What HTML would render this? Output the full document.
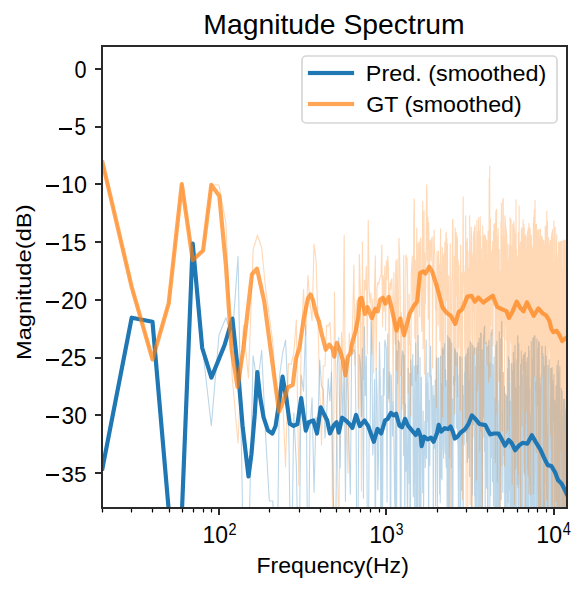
<!DOCTYPE html><html><head><meta charset="utf-8"><style>html,body{margin:0;padding:0;background:#fff;overflow:hidden}svg{display:block}</style></head><body><svg width="587" height="591" viewBox="0 0 587 591"><defs><clipPath id="ax"><rect x="101.92" y="46.5" width="465" height="462"/></clipPath></defs><rect width="587" height="591" fill="#fff"/><g clip-path="url(#ax)" fill="none" stroke-linejoin="round" stroke-linecap="butt"><g opacity="0.3"><path d="M102.00 470.60L131.47 318.90L152.37 321.78L168.59 508.74L181.84 510.00L193.04 247.29L202.75 349.77L211.31 425.90L218.97 335.00L225.89 317.70L232.22 338.62L238.03 256.50L243.42 560.00L248.43 560.00L253.12 355.90L257.53 385.00L261.68 350.30L265.61 434.93L269.34 501.00L272.89 501.00L276.27 653.63L279.50 376.48L282.59 353.49L285.56 340.00L288.41 405.64L291.15 600.00L293.79 412.98L296.34 464.78L298.81 600.00L301.19 374.98L303.50 391.25L305.73 324.50L307.90 600.00L310.01 429.11L312.06 397.89L314.05 492.31L315.99 417.11L317.87 424.95L319.71 360.00L321.51 385.93L323.26 389.43L324.97 437.95L326.64 414.04L328.27 378.45L329.87 400.92L331.43 372.13L332.96 485.97L334.46 529.83L335.93 515.91L337.37 364.18L338.78 337.60L340.17 467.97L341.52 361.74L342.86 424.67L344.17 360.42L345.45 501.29L346.72 358.68L347.96 397.03L349.18 451.01L350.38 494.14L351.56 354.95L352.73 354.06L353.87 349.40L355.00 352.31L356.11 426.78L357.20 640.25L358.28 486.24L359.34 354.61L360.38 363.52L361.42 416.47L362.43 348.42L363.43 498.20L364.42 326.90L365.40 395.67L366.36 356.02L367.31 529.67L368.25 589.72L369.17 425.26L370.09 433.80L370.99 321.00L371.88 345.04L372.76 454.88L373.63 433.41L374.49 379.54L375.34 573.73L376.18 368.27L377.02 394.36L377.84 490.05L378.65 454.90L379.45 342.13L380.25 381.46L381.03 592.08L381.81 395.64L382.58 516.53L383.34 368.52L384.09 395.28L384.84 340.00L385.58 343.83L386.31 348.70L387.03 502.23L387.74 334.00L388.45 398.63L389.16 383.35L389.85 371.73L390.54 603.92L391.22 375.17L391.90 400.59L392.57 436.06L393.23 402.13L393.89 435.61L394.54 493.11L395.19 516.60L395.83 333.20L396.46 596.64L397.09 351.13L397.72 383.62L398.33 340.35L398.95 342.02L399.56 343.59L400.16 472.38L400.76 640.25L401.35 376.31L401.94 358.60L402.52 350.99L403.10 352.43L403.68 455.81L404.25 355.29L404.81 524.00L405.37 403.95L405.93 471.27L406.48 424.26L407.03 469.27L407.58 548.74L408.12 368.32L408.65 428.60L409.18 483.64L409.71 373.23L410.24 680.90L410.76 359.70L411.28 379.31L411.79 385.69L412.30 373.53L412.81 354.26L413.31 496.69L413.81 449.51L414.30 366.07L414.80 561.02L415.29 494.92L415.77 343.39L416.26 392.65L416.74 562.00L417.21 365.64L417.69 515.18L418.16 335.50L418.62 382.00L419.09 452.10L419.55 699.71L420.01 357.63L420.46 483.21L420.92 513.17L421.37 377.23L421.81 441.05L422.26 445.96L422.70 492.79L423.14 410.97L423.58 508.69L424.01 444.32L424.44 455.16L424.87 421.29L425.30 467.57L425.72 375.05L426.14 339.98L426.56 458.33L426.98 383.89L427.39 421.39L427.80 372.68L428.21 387.50L428.62 547.77L429.02 400.17L429.43 417.55L429.83 465.61L430.22 369.14L430.62 346.12L431.01 379.27L431.41 375.82L431.80 423.08L432.18 436.15L432.57 413.18L432.95 385.61L433.33 552.89L433.71 395.39L434.09 400.82L434.47 448.12L434.84 419.07L435.21 380.02L435.58 505.73L435.95 422.28L436.32 362.37L436.68 357.52L437.04 358.20L437.40 511.68L437.76 409.64L438.12 432.42L438.47 358.81L438.83 357.93L439.18 418.76L439.53 493.99L439.88 431.21L440.23 502.61L440.57 356.06L440.91 477.83L441.26 404.71L441.60 383.62L441.94 479.63L442.27 349.32L442.61 390.03L442.94 347.64L443.28 446.64L443.61 458.16L443.94 350.16L444.26 362.41L444.59 343.52L444.92 441.93L445.24 453.42L445.56 369.87L445.88 458.72L446.20 467.33L446.52 443.15L446.84 380.51L447.15 518.90L447.47 418.85L447.78 335.50L448.09 418.03L448.40 523.58L448.71 482.09L449.02 337.80L449.32 338.37L449.63 535.09L449.93 392.52L450.23 340.09L450.53 370.53L450.83 436.07L451.13 425.02L451.43 467.61L451.72 342.91L452.02 514.86L452.31 412.13L452.61 399.00L452.90 525.16L453.19 398.97L453.48 438.11L453.76 376.33L454.05 440.82L454.34 404.51L454.62 348.38L454.90 380.86L455.19 359.37L455.47 349.97L455.75 370.49L456.03 397.94L456.30 427.98L456.58 366.09L456.86 352.60L457.13 428.18L457.41 353.63L457.68 442.43L457.95 438.72L458.22 469.52L458.49 536.74L458.76 400.13L459.03 375.33L459.29 466.75L459.56 356.33L459.82 466.21L460.09 535.57L460.35 356.80L460.61 621.77L460.87 442.72L461.13 453.65L461.39 437.25L461.65 490.20L461.91 357.72L462.16 387.32L462.42 415.23L462.67 444.20L462.93 385.67L463.18 585.71L463.43 421.63L463.68 395.45L463.93 442.51L464.18 444.99L464.43 372.85L464.68 432.82L464.93 377.22L465.17 356.89L465.42 404.75L465.66 431.95L465.90 371.21L466.15 353.96L466.39 358.82L466.63 441.87L466.87 362.86L467.11 381.30L467.35 462.34L467.59 349.64L467.82 366.31L468.06 421.02L468.30 347.51L468.53 432.83L468.76 458.04L469.00 423.87L469.23 413.82L469.46 380.63L469.69 476.56L469.92 355.20L470.15 341.94L470.38 341.50L470.61 411.91L470.84 375.26L471.06 393.94L471.29 418.07L471.52 640.34L471.74 343.65L471.96 364.29L472.19 495.03L472.41 482.54L472.63 419.95L472.85 391.10L473.07 345.64L473.29 419.58L473.51 424.66L473.73 424.03L473.95 382.00L474.17 359.54L474.38 347.70L474.60 496.11L474.81 348.23L475.03 509.05L475.24 487.33L475.46 366.27L475.67 402.43L475.88 508.03L476.09 470.47L476.30 601.65L476.51 537.50L476.72 347.35L476.93 363.53L477.14 535.16L477.35 443.80L477.56 370.46L477.76 405.47L477.97 342.79L478.18 342.86L478.38 455.93L478.59 539.38L478.79 410.93L478.99 362.94L479.20 338.30L479.40 366.31L479.60 369.05L479.80 519.91L480.00 390.84L480.20 443.94L480.40 432.16L480.60 333.16L480.80 421.10L480.99 683.66L481.19 333.33L481.39 413.71L481.58 448.96L481.78 381.19L481.98 499.27L482.17 349.69L482.36 514.41L482.56 511.18L482.75 360.27L482.94 365.78L483.14 387.11L483.33 407.05L483.52 335.47L483.71 347.32L483.90 418.02L484.09 327.47L484.28 386.93L484.47 451.25L484.65 326.00L484.84 373.08L485.03 429.28L485.21 511.99L485.40 365.80L485.59 469.96L485.77 409.07L485.96 428.37L486.14 342.22L486.32 440.25L486.51 488.25L486.69 471.53L486.87 403.36L487.05 346.99L487.24 383.32L487.42 448.84L487.60 560.30L487.78 464.26L487.96 625.20L488.14 418.35L488.32 345.65L488.49 405.26L488.67 437.22L488.85 340.78L489.03 340.11L489.20 364.22L489.38 364.56L489.55 386.33L489.73 385.32L489.90 511.29L490.08 389.40L490.25 363.39L490.43 461.67L490.60 495.86L490.77 423.96L490.95 332.84L491.12 443.39L491.29 457.52L491.46 377.44L491.63 433.34L491.80 329.60L491.97 330.94L492.14 380.62L492.31 403.64L492.48 481.73L492.65 371.81L492.82 364.60L492.98 374.77L493.15 467.13L493.32 464.75L493.48 505.73L493.65 381.31L493.82 446.61L493.98 450.37L494.15 357.03L494.31 447.87L494.47 458.55L494.64 398.13L494.80 532.28L494.97 544.38L495.13 434.97L495.29 462.72L495.45 406.95L495.61 512.43L495.78 416.27L495.94 345.21L496.10 401.17L496.26 393.83L496.42 538.52L496.58 479.87L496.74 341.95L496.89 341.30L497.05 362.54L497.21 383.87L497.37 440.80L497.53 440.79L497.68 629.20L497.84 444.55L498.00 471.07L498.15 515.72L498.31 474.67L498.46 445.11L498.62 447.91L498.77 400.69L498.93 447.67L499.08 507.76L499.24 331.75L499.39 488.10L499.54 368.87L499.70 394.56L499.85 527.00L500.00 437.64L500.15 383.51L500.30 389.91L500.46 410.84L500.61 475.49L500.76 338.91L500.91 452.85L501.06 420.88L501.21 499.78L501.36 369.98L501.51 387.65L501.65 321.89L501.80 321.30L501.95 411.50L502.10 465.34L502.25 414.86L502.39 411.54L502.54 439.64L502.69 438.62L502.83 492.34L502.98 449.24L503.13 463.67L503.27 374.47L503.42 372.25L503.56 455.72L503.71 427.88L503.85 388.47L503.99 435.06L504.14 436.33L504.28 406.55L504.42 386.50L504.57 391.93L504.71 535.86L504.85 480.38L504.99 543.97L505.14 472.85L505.28 453.07L505.42 393.86L505.56 394.91L505.70 450.69L505.84 573.02L505.98 420.28L506.12 432.82L506.26 396.11L506.40 461.44L506.54 411.64L506.68 396.03L506.82 407.06L506.96 492.96L507.09 446.82L507.23 546.51L507.37 460.36L507.51 428.81L507.64 500.80L507.78 368.79L507.92 498.70L508.05 431.51L508.19 418.82L508.32 502.12L508.46 356.91L508.59 419.11L508.73 427.69L508.86 480.28L509.00 536.48L509.13 359.90L509.27 383.60L509.40 456.38L509.53 407.85L509.67 448.92L509.80 439.46L509.93 490.03L510.07 401.18L510.20 433.76L510.33 454.08L510.46 526.95L510.59 449.63L510.72 529.77L510.86 499.97L510.99 415.20L511.12 382.99L511.25 425.85L511.38 364.24L511.51 432.78L511.64 399.06L511.77 363.18L511.90 421.01L512.02 571.37L512.15 377.21L512.28 402.75L512.41 402.34L512.54 370.95L512.67 459.70L512.79 446.51L512.92 513.76L513.05 496.70L513.18 536.64L513.30 352.35L513.43 371.60L513.55 390.02L513.68 364.15L513.81 609.27L513.93 459.79L514.06 424.97L514.18 455.39L514.31 517.89L514.43 442.87L514.56 361.83L514.68 512.19L514.81 532.23L514.93 345.42L515.05 371.64L515.18 548.43L515.30 434.07L515.42 409.63L515.55 389.80L515.67 387.91L515.79 507.13L515.91 393.56L516.04 521.84L516.16 418.79L516.28 537.22L516.40 410.91L516.52 438.12L516.64 391.53L516.76 403.08L516.88 359.74L517.00 359.60L517.12 408.29L517.24 484.10L517.36 449.13L517.48 456.80L517.60 336.49L517.72 414.90L517.84 335.50L517.96 514.36L518.08 374.20L518.20 519.36L518.32 427.86L518.43 503.69L518.55 369.20L518.67 498.33L518.79 343.75L518.90 527.18L519.02 522.84L519.14 533.50L519.26 401.47L519.37 484.42L519.49 386.54L519.60 428.78L519.72 397.13L519.84 428.13L519.95 435.70L520.07 386.68L520.18 419.89L520.30 384.21L520.41 364.60L520.53 648.19L520.64 390.91L520.76 370.97L520.87 384.89L520.98 481.43L521.10 516.57L521.21 490.30L521.33 351.02L521.44 431.78L521.55 561.84L521.66 377.05L521.78 365.87L521.89 358.72L522.00 390.73L522.11 413.97L522.23 471.23L522.34 375.67L522.45 620.51L522.56 400.21L522.67 572.46L522.78 449.96L522.90 511.10L523.01 550.09L523.12 452.37L523.23 463.47L523.34 355.54L523.45 388.77L523.56 378.91L523.67 419.99L523.78 435.33L523.89 419.80L524.00 424.66L524.11 354.23L524.21 401.40L524.32 385.81L524.43 392.41L524.54 475.00L524.65 423.27L524.76 363.74L524.87 352.93L524.97 547.69L525.08 368.93L525.19 352.38L525.30 587.03L525.40 413.28L525.51 415.74L525.62 386.70L525.72 509.18L525.83 510.87L525.94 362.41L526.04 477.24L526.15 386.86L526.26 501.52L526.36 423.34L526.47 648.92L526.57 496.47L526.68 405.76L526.78 416.66L526.89 454.38L526.99 377.25L527.10 394.69L527.20 412.61L527.31 357.43L527.41 369.30L527.52 643.99L527.62 477.57L527.72 407.48L527.83 472.49L527.93 381.46L528.04 444.11L528.14 430.34L528.24 377.50L528.34 379.16L528.45 531.84L528.55 473.57L528.65 346.29L528.76 396.84L528.86 451.52L528.96 385.69L529.06 557.02L529.16 351.07L529.27 477.59L529.37 432.80L529.47 444.29L529.57 408.11L529.67 389.39L529.77 478.77L529.87 411.99L529.97 419.37L530.07 428.56L530.17 485.70L530.27 415.94L530.37 425.17L530.47 509.34L530.57 437.96L530.67 546.82L530.77 439.83L530.87 530.73L530.97 560.96L531.07 573.51L531.17 441.19L531.27 341.46L531.37 546.09L531.47 389.70L531.57 445.29L531.66 486.52L531.76 378.61L531.86 415.69L531.96 380.51L532.06 700.00L532.15 386.08L532.25 495.91L532.35 454.30L532.45 402.71L532.54 358.15L532.64 515.44L532.74 571.07L532.84 338.57L532.93 352.04L533.03 338.21L533.12 365.85L533.22 447.42L533.32 397.94L533.41 337.50L533.51 448.82L533.61 516.41L533.70 563.52L533.80 452.07L533.89 432.27L533.99 505.46L534.08 609.07L534.18 375.31L534.27 369.52L534.37 522.11L534.46 335.50L534.56 565.22L534.65 473.81L534.75 442.26L534.84 424.32L534.93 336.15L535.03 432.35L535.12 398.30L535.22 470.49L535.31 428.56L535.40 395.32L535.50 424.05L535.59 431.17L535.68 382.19L535.77 412.03L535.87 509.65L535.96 445.88L536.05 404.70L536.15 430.08L536.24 529.45L536.33 439.24L536.42 561.15L536.51 446.36L536.61 376.57L536.70 427.07L536.79 449.08L536.88 339.09L536.97 374.78L537.06 383.37L537.16 413.93L537.25 369.85L537.34 410.02L537.43 437.86L537.52 489.99L537.61 404.39L537.70 536.18L537.79 398.57L537.88 477.52L537.97 479.67L538.06 424.15L538.15 348.43L538.24 548.42L538.33 411.07L538.42 579.68L538.51 341.54L538.60 395.51L538.69 407.18L538.78 451.60L538.87 487.66L538.96 424.46L539.05 559.31L539.13 439.07L539.22 342.62L539.31 460.49L539.40 619.99L539.49 459.17L539.58 394.59L539.67 384.31L539.75 377.41L539.84 540.84L539.93 563.93L540.02 453.25L540.10 448.20L540.19 468.38L540.28 429.49L540.37 415.84L540.45 396.15L540.54 498.90L540.63 476.47L540.71 504.71L540.80 386.84L540.89 507.40L540.97 496.73L541.06 383.68L541.15 492.26L541.23 390.63L541.32 374.55L541.41 529.10L541.49 399.75L541.58 684.17L541.66 346.20L541.75 440.49L541.83 460.83L541.92 496.51L542.01 422.71L542.09 417.30L542.18 346.20L542.26 554.14L542.35 606.06L542.43 442.01L542.52 450.31L542.60 472.74L542.68 614.21L542.77 443.03L542.85 353.47L542.94 383.77L543.02 505.96L543.11 417.73L543.19 486.28L543.27 356.37L543.36 670.97L543.44 379.69L543.52 405.60L543.61 431.97L543.69 564.03L543.77 395.19L543.86 700.00L543.94 449.79L544.02 463.62L544.11 366.09L544.19 607.60L544.27 419.50L544.36 700.00L544.44 446.57L544.52 525.40L544.60 452.46L544.68 582.72L544.77 436.40L544.85 452.73L544.93 503.83L545.01 403.20L545.09 480.57L545.18 355.32L545.26 493.54L545.34 346.20L545.42 370.64L545.50 444.35L545.58 479.31L545.66 386.87L545.75 446.88L545.83 486.09L545.91 555.31L545.99 404.54L546.07 438.31L546.15 355.98L546.23 443.76L546.31 359.16L546.39 454.28L546.47 399.48L546.55 406.13L546.63 549.32L546.71 423.58L546.79 435.07L546.87 503.24L546.95 518.44L547.03 478.99L547.11 495.75L547.19 518.34L547.27 431.51L547.35 670.84L547.43 638.92L547.51 625.00L547.59 581.04L547.66 603.19L547.74 477.62L547.82 460.40L547.90 452.03L547.98 365.54L548.06 425.49L548.14 489.22L548.22 563.86L548.29 369.10L548.37 394.72L548.45 511.11L548.53 410.54L548.61 398.32L548.68 440.62L548.76 434.66L548.84 438.84L548.92 386.82L548.99 386.91L549.07 417.54L549.15 380.46L549.23 359.92L549.30 448.85L549.38 417.83L549.46 461.28L549.53 454.57L549.61 464.69L549.69 499.96L549.76 536.79L549.84 504.38L549.92 437.43L549.99 408.58L550.07 432.89L550.15 423.04L550.22 493.38L550.30 465.39L550.38 466.12L550.45 399.05L550.53 549.95L550.60 492.63L550.68 385.25L550.75 368.58L550.83 540.16L550.91 416.10L550.98 491.20L551.06 569.44L551.13 443.32L551.21 368.58L551.28 368.49L551.36 496.36L551.43 426.63L551.51 563.33L551.58 430.05L551.66 414.97L551.73 446.32L551.81 395.12L551.88 440.92L551.95 444.61L552.03 450.54L552.10 367.53L552.18 686.02L552.25 437.35L552.33 430.14L552.40 536.73L552.47 468.50L552.55 611.74L552.62 380.41L552.69 457.86L552.77 431.95L552.84 451.15L552.92 547.63L552.99 411.92L553.06 562.48L553.14 447.90L553.21 456.36L553.28 384.72L553.35 443.85L553.43 700.00L553.50 521.54L553.57 438.49L553.65 518.54L553.72 494.21L553.79 469.41L553.86 374.78L553.94 523.50L554.01 447.78L554.08 468.86L554.15 448.69L554.22 537.69L554.30 502.63L554.37 432.50L554.44 447.02L554.51 497.14L554.58 425.04L554.66 578.43L554.73 400.11L554.80 524.33L554.87 526.76L554.94 462.66L555.01 427.16L555.08 425.07L555.16 401.94L555.23 432.08L555.30 488.23L555.37 439.31L555.44 405.25L555.51 418.65L555.58 522.41L555.65 531.09L555.72 566.72L555.79 479.21L555.86 432.48L555.93 471.52L556.01 385.92L556.08 473.18L556.15 466.10L556.22 692.78L556.29 700.00L556.36 549.82L556.43 546.60L556.50 505.15L556.57 487.08L556.64 591.85L556.71 679.71L556.77 635.61L556.84 406.08L556.91 541.13L556.98 365.38L557.05 405.28L557.12 595.53L557.19 432.94L557.26 499.62L557.33 551.42L557.40 470.84L557.47 437.45L557.54 570.55L557.61 465.96L557.67 429.65L557.74 524.15L557.81 493.29L557.88 475.80L557.95 549.41L558.02 495.97L558.09 432.92L558.15 423.42L558.22 360.40L558.29 458.39L558.36 372.80L558.43 520.13L558.49 454.28L558.56 372.03L558.63 407.05L558.70 404.96L558.77 559.29L558.83 531.75L558.90 456.80L558.97 431.57L559.04 437.84L559.10 503.31L559.17 396.54L559.24 430.43L559.31 605.86L559.37 482.00L559.44 436.73L559.51 441.20L559.57 387.07L559.64 525.50L559.71 550.89L559.78 451.05L559.84 366.50L559.91 638.59L559.98 523.73L560.04 700.00L560.11 455.73L560.17 445.42L560.24 500.30L560.31 465.67L560.37 456.49L560.44 506.06L560.51 427.33L560.57 529.74L560.64 580.68L560.70 447.73L560.77 516.14L560.84 473.87L560.90 432.24L560.97 535.19L561.03 410.30L561.10 451.16L561.16 509.15L561.23 437.67L561.30 388.22L561.36 573.89L561.43 507.30L561.49 490.54L561.56 474.44L561.62 613.46L561.69 462.40L561.75 476.97L561.82 539.02L561.88 700.00L561.95 425.21L562.01 491.53L562.08 646.76L562.14 391.01L562.21 423.95L562.27 484.08L562.33 664.48L562.40 508.54L562.46 474.09L562.53 523.70L562.59 433.03L562.66 416.97L562.72 694.42L562.78 426.99L562.85 474.08L562.91 432.10L562.98 534.08L563.04 660.40L563.10 431.06L563.17 506.96L563.23 465.41L563.30 484.27L563.36 471.95L563.42 512.46L563.49 407.01L563.55 492.05L563.61 399.23L563.68 437.35L563.74 453.87L563.80 461.49L563.87 497.27L563.93 700.00L563.99 417.53L564.06 469.08L564.12 509.56L564.18 667.17L564.24 410.21L564.31 399.18L564.37 526.37L564.43 400.42L564.49 480.02L564.56 600.43L564.62 402.27L564.68 514.21L564.74 495.75L564.81 525.08L564.87 529.84L564.93 572.53L564.99 513.37L565.06 442.28L565.12 510.24L565.18 477.04L565.24 487.85L565.30 502.33L565.37 414.16L565.43 607.90L565.49 546.55L565.55 501.69L565.61 493.48L565.67 459.44L565.74 422.67L565.80 579.19L565.86 443.73L565.92 409.00L565.98 425.79L566.04 497.06L566.10 425.43L566.17 439.73L566.23 439.23L566.29 443.54L566.35 643.58L566.41 457.79L566.47 464.79L566.53 527.44L566.59 558.53L566.65 443.74L566.71 523.18L566.77 700.00L566.84 533.00L566.90 436.14" stroke="#1f77b4" stroke-width="1.1"/></g><g opacity="0.3"><path d="M102.00 160.40L131.47 286.01L152.37 358.96L168.59 303.78L181.84 184.29L193.04 259.88L202.75 250.73L211.31 184.91L218.97 185.00L225.89 223.40L232.22 377.51L238.03 443.00L243.42 325.01L248.43 377.99L253.12 249.92L257.53 235.00L261.68 248.00L265.61 288.72L269.34 316.70L272.89 343.14L276.27 394.30L279.50 410.89L282.59 396.11L285.56 466.80L288.41 363.87L291.15 364.27L293.79 353.49L296.34 320.00L298.81 485.55L301.19 342.39L303.50 289.40L305.73 335.72L307.90 275.51L310.01 302.32L312.06 320.84L314.05 244.00L315.99 260.00L317.87 315.32L319.71 391.23L321.51 445.30L323.26 365.76L324.97 366.03L326.64 325.35L328.27 326.26L329.87 322.36L331.43 348.43L332.96 609.47L334.46 292.00L335.93 385.20L337.37 456.05L338.78 539.79L340.17 392.45L341.52 332.53L342.86 360.49L344.17 235.30L345.45 419.28L346.72 425.06L347.96 472.92L349.18 333.02L350.38 349.13L351.56 352.64L352.73 317.97L353.87 265.00L355.00 365.01L356.11 305.26L357.20 299.54L358.28 408.47L359.34 254.50L360.38 292.47L361.42 490.96L362.43 242.20L363.43 379.78L364.42 280.00L365.40 289.86L366.36 266.40L367.31 354.21L368.25 220.40L369.17 288.18L370.09 302.93L370.99 292.98L371.88 354.49L372.76 299.14L373.63 373.01L374.49 287.74L375.34 255.90L376.18 369.81L377.02 287.56L377.84 282.60L378.65 284.27L379.45 280.45L380.25 276.67L381.03 275.94L381.81 245.10L382.58 326.43L383.34 275.75L384.09 311.29L384.84 266.40L385.58 330.77L386.31 260.83L387.03 279.64L387.74 256.00L388.45 268.37L389.16 402.32L389.85 282.71L390.54 289.40L391.22 280.04L391.90 278.72L392.57 330.15L393.23 402.26L393.89 272.52L394.54 316.66L395.19 344.32L395.83 261.10L396.46 370.15L397.09 259.06L397.72 303.08L398.33 416.76L398.95 238.20L399.56 253.43L400.16 286.33L400.76 375.52L401.35 312.55L401.94 409.36L402.52 377.51L403.10 403.84L403.68 255.66L404.25 307.77L404.81 420.97L405.37 404.30L405.93 254.80L406.48 256.78L407.03 258.64L407.58 280.51L408.12 393.13L408.65 340.87L409.18 294.14L409.71 344.42L410.24 343.66L410.76 415.96L411.28 275.21L411.79 265.62L412.30 256.09L412.81 311.46L413.31 310.74L413.81 217.65L414.30 199.10L414.80 337.90L415.29 260.17L415.77 380.75L416.26 302.42L416.74 228.17L417.21 280.86L417.69 373.78L418.16 243.62L418.62 300.19L419.09 241.82L419.55 316.57L420.01 253.53L420.46 238.29L420.92 240.45L421.37 318.30L421.81 331.55L422.26 274.09L422.70 201.50L423.14 348.85L423.58 264.55L424.01 211.13L424.44 374.12L424.87 253.06L425.30 304.03L425.72 283.72L426.14 251.42L426.56 184.90L426.98 193.70L427.39 260.37L427.80 216.97L428.21 318.97L428.62 222.27L429.02 240.29L429.43 376.65L429.83 240.39L430.22 242.43L430.62 241.43L431.01 260.81L431.41 239.45L431.80 238.46L432.18 237.09L432.57 368.11L432.95 276.09L433.33 275.31L433.71 240.39L434.09 230.00L434.47 251.59L434.84 254.71L435.21 291.81L435.58 310.03L435.95 284.26L436.32 407.79L436.68 292.88L437.04 251.24L437.40 269.77L437.76 257.89L438.12 325.08L438.47 250.81L438.83 275.32L439.18 265.08L439.53 302.01L439.88 341.05L440.23 266.89L440.57 228.70L440.91 291.02L441.26 426.05L441.60 381.66L441.94 267.86L442.27 247.38L442.61 417.09L442.94 255.56L443.28 255.74L443.61 353.36L443.94 252.78L444.26 290.88L444.59 263.37L444.92 242.13L445.24 370.63L445.56 386.19L445.88 234.10L446.20 232.30L446.52 300.19L446.84 238.63L447.15 273.46L447.47 244.03L447.78 425.07L448.09 404.20L448.40 327.92L448.71 275.91L449.02 409.44L449.32 457.73L449.63 337.51L449.93 326.87L450.23 243.82L450.53 336.61L450.83 523.73L451.13 386.15L451.43 342.56L451.72 283.34L452.02 276.74L452.31 253.20L452.61 219.20L452.90 220.42L453.19 351.28L453.48 384.53L453.76 306.71L454.05 341.51L454.34 256.47L454.62 413.90L454.90 300.02L455.19 227.74L455.47 315.32L455.75 330.48L456.03 365.64L456.30 232.73L456.58 295.18L456.86 235.89L457.13 237.47L457.41 239.03L457.68 396.90L457.95 373.02L458.22 259.83L458.49 337.23L458.76 347.56L459.03 265.25L459.29 299.89L459.56 331.01L459.82 328.34L460.09 335.07L460.35 410.56L460.61 244.95L460.87 261.81L461.13 357.56L461.39 344.60L461.65 272.70L461.91 297.07L462.16 416.57L462.42 499.23L462.67 305.65L462.93 233.02L463.18 196.70L463.43 270.90L463.68 265.34L463.93 281.37L464.18 294.51L464.43 272.13L464.68 349.22L464.93 333.72L465.17 363.92L465.42 418.09L465.66 215.76L465.90 303.30L466.15 522.86L466.39 315.58L466.63 241.44L466.87 331.50L467.11 330.96L467.35 238.52L467.59 379.86L467.82 548.96L468.06 251.18L468.30 347.67L468.53 272.26L468.76 268.06L469.00 347.29L469.23 429.29L469.46 402.42L469.69 215.70L469.92 299.56L470.15 504.57L470.38 291.24L470.61 249.69L470.84 278.49L471.06 242.04L471.29 227.26L471.52 242.16L471.74 334.45L471.96 310.02L472.19 602.12L472.41 273.30L472.63 262.41L472.85 252.83L473.07 437.15L473.29 235.97L473.51 246.07L473.73 231.79L473.95 311.87L474.17 266.93L474.38 227.75L474.60 326.83L474.81 353.60L475.03 225.31L475.24 239.13L475.46 258.45L475.67 268.85L475.88 271.41L476.09 296.47L476.30 480.26L476.51 288.02L476.72 244.40L476.93 220.46L477.14 345.02L477.35 347.62L477.56 259.75L477.76 390.83L477.97 231.47L478.18 383.04L478.38 287.24L478.59 217.69L478.79 322.69L478.99 350.06L479.20 256.12L479.40 231.26L479.60 265.88L479.80 451.06L480.00 317.17L480.20 216.90L480.40 238.32L480.60 431.26L480.80 236.17L480.99 285.14L481.19 338.31L481.39 248.74L481.58 270.00L481.78 260.48L481.98 465.09L482.17 272.72L482.36 552.08L482.56 361.72L482.75 225.80L482.94 244.66L483.14 304.47L483.33 372.12L483.52 245.07L483.71 437.10L483.90 235.72L484.09 249.55L484.28 337.55L484.47 246.82L484.65 282.53L484.84 234.47L485.03 297.23L485.21 343.22L485.40 236.40L485.59 237.33L485.77 238.26L485.96 343.74L486.14 240.10L486.32 284.74L486.51 306.77L486.69 240.20L486.87 340.71L487.05 364.67L487.24 327.06L487.42 266.65L487.60 254.58L487.78 349.89L487.96 252.02L488.14 231.06L488.32 349.75L488.49 275.40L488.67 381.94L488.85 311.05L489.03 247.05L489.20 178.47L489.38 241.18L489.55 326.57L489.73 166.10L489.90 309.60L490.08 376.60L490.25 226.62L490.43 218.48L490.60 251.85L490.77 326.14L490.95 284.00L491.12 258.80L491.29 298.11L491.46 254.94L491.63 253.02L491.80 300.05L491.97 250.10L492.14 335.26L492.31 261.93L492.48 281.85L492.65 241.57L492.82 331.59L492.98 346.01L493.15 267.87L493.32 294.78L493.48 231.20L493.65 265.38L493.82 305.01L493.98 224.62L494.15 304.22L494.31 267.10L494.47 241.25L494.64 249.95L494.80 223.42L494.97 297.44L495.13 256.50L495.29 462.51L495.45 244.91L495.61 320.17L495.78 211.76L495.94 414.02L496.10 210.76L496.26 210.26L496.42 311.79L496.58 209.20L496.74 342.46L496.89 402.09L497.05 358.96L497.21 348.07L497.37 482.31L497.53 236.14L497.68 305.85L497.84 307.86L498.00 294.62L498.15 228.58L498.31 242.72L498.46 317.56L498.62 292.77L498.77 351.84L498.93 381.28L499.08 350.08L499.24 249.62L499.39 306.37L499.54 381.49L499.70 344.52L499.85 302.81L500.00 270.69L500.15 488.61L500.30 528.86L500.46 432.57L500.61 295.08L500.76 366.96L500.91 222.17L501.06 246.58L501.21 359.67L501.36 203.13L501.51 365.23L501.65 296.35L501.80 236.40L501.95 287.07L502.10 378.44L502.25 388.46L502.39 430.99L502.54 314.71L502.69 255.75L502.83 199.50L502.98 264.75L503.13 289.16L503.27 198.60L503.42 285.00L503.56 234.66L503.71 320.10L503.85 336.91L503.99 277.83L504.14 324.55L504.28 238.40L504.42 268.62L504.57 466.05L504.71 255.25L504.85 215.68L504.99 286.92L505.14 218.61L505.28 306.21L505.42 221.53L505.56 285.91L505.70 311.56L505.84 326.01L505.98 226.79L506.12 339.99L506.26 251.28L506.40 230.51L506.54 284.02L506.68 255.85L506.82 234.20L506.96 432.90L507.09 393.19L507.23 378.17L507.37 267.84L507.51 288.28L507.64 278.46L507.78 429.64L507.92 306.44L508.05 244.02L508.19 274.58L508.32 272.46L508.46 360.75L508.59 319.87L508.73 318.91L508.86 334.91L509.00 259.67L509.13 297.45L509.27 448.08L509.40 290.09L509.53 245.48L509.67 415.07L509.80 302.11L509.93 380.55L510.07 217.50L510.20 275.72L510.33 335.89L510.46 295.69L510.59 241.26L510.72 338.87L510.86 219.23L510.99 219.53L511.12 274.86L511.25 343.22L511.38 322.99L511.51 245.22L511.64 275.01L511.77 372.67L511.90 341.04L512.02 413.88L512.15 484.51L512.28 355.88L512.41 309.73L512.54 314.88L512.67 242.56L512.79 224.25L512.92 223.96L513.05 355.28L513.18 224.54L513.30 278.80L513.43 448.01L513.55 349.03L513.68 297.23L513.81 275.52L513.93 221.34L514.06 274.59L514.18 474.15L514.31 227.15L514.43 504.62L514.56 362.42L514.68 285.43L514.81 441.08L514.93 233.74L515.05 352.08L515.18 319.51L515.30 307.24L515.42 341.82L515.55 469.01L515.67 380.18L515.79 365.07L515.91 249.99L516.04 199.70L516.16 442.31L516.28 371.02L516.40 301.29L516.52 249.50L516.64 337.86L516.76 283.49L516.88 323.23L517.00 383.65L517.12 315.29L517.24 293.50L517.36 466.07L517.48 332.68L517.60 256.76L517.72 372.20L517.84 487.81L517.96 414.57L518.08 358.00L518.20 379.92L518.32 232.45L518.43 474.46L518.55 424.08L518.67 275.61L518.79 288.99L518.90 301.61L519.02 341.12L519.14 205.70L519.26 294.87L519.37 364.05L519.49 244.23L519.60 280.86L519.72 334.50L519.84 305.02L519.95 275.51L520.07 247.61L520.18 387.36L520.30 363.81L520.41 431.68L520.53 566.66L520.64 241.94L520.76 264.70L520.87 300.69L520.98 267.71L521.10 255.71L521.21 386.86L521.33 229.69L521.44 230.26L521.55 232.36L521.66 241.04L521.78 387.48L521.89 227.45L522.00 425.76L522.11 309.13L522.23 408.38L522.34 257.53L522.45 312.31L522.56 332.20L522.67 309.25L522.78 233.59L522.90 296.99L523.01 370.29L523.12 219.90L523.23 352.39L523.34 244.36L523.45 259.47L523.56 264.08L523.67 288.14L523.78 224.29L523.89 300.97L524.00 472.29L524.11 302.83L524.21 268.82L524.32 227.83L524.43 428.59L524.54 282.52L524.65 272.05L524.76 349.40L524.87 396.20L524.97 316.07L525.08 536.79L525.19 444.96L525.30 251.33L525.40 234.84L525.51 235.53L525.62 257.89L525.72 423.06L525.83 247.93L525.94 411.43L526.04 271.07L526.15 343.61L526.26 289.02L526.36 387.33L526.47 340.74L526.57 253.14L526.68 288.19L526.78 236.54L526.89 347.51L526.99 290.14L527.10 411.73L527.20 317.24L527.31 233.43L527.41 232.81L527.52 468.69L527.62 282.45L527.72 230.96L527.83 267.32L527.93 237.33L528.04 475.00L528.14 302.62L528.24 227.90L528.34 349.74L528.45 411.55L528.55 291.14L528.65 321.35L528.76 379.22L528.86 337.56L528.96 223.40L529.06 223.71L529.16 493.84L529.27 313.45L529.37 316.80L529.47 282.48L529.57 252.85L529.67 304.56L529.77 230.58L529.87 401.36L529.97 248.85L530.07 228.73L530.17 229.23L530.27 397.43L530.37 263.42L530.47 311.39L530.57 447.19L530.67 269.18L530.77 494.88L530.87 388.35L530.97 372.06L531.07 237.66L531.17 266.19L531.27 264.80L531.37 235.17L531.47 434.34L531.57 294.78L531.66 438.82L531.76 245.21L531.86 443.16L531.96 386.21L532.06 311.43L532.15 271.98L532.25 313.24L532.35 308.49L532.45 247.56L532.54 349.87L532.64 276.11L532.74 353.71L532.84 369.55L532.93 308.87L533.03 341.68L533.12 380.54L533.22 493.61L533.32 222.59L533.41 288.53L533.51 295.49L533.61 485.03L533.70 217.49L533.80 368.64L533.89 298.64L533.99 299.41L534.08 220.06L534.18 319.19L534.27 209.88L534.37 315.28L534.46 235.99L534.56 376.29L534.65 263.87L534.75 261.34L534.84 317.42L534.93 299.99L535.03 200.20L535.12 236.77L535.22 282.36L535.31 320.77L535.40 336.70L535.50 231.98L535.59 390.36L535.68 350.27L535.77 369.50L535.87 332.10L535.96 387.86L536.05 405.33L536.15 224.82L536.24 265.27L536.33 452.43L536.42 224.15L536.51 255.47L536.61 227.24L536.70 283.12L536.79 325.18L536.88 339.52L536.97 302.37L537.06 297.41L537.16 317.56L537.25 253.55L537.34 283.97L537.43 380.77L537.52 344.52L537.61 404.92L537.70 300.54L537.79 230.17L537.88 276.34L537.97 362.55L538.06 347.65L538.15 354.41L538.24 557.69L538.33 229.99L538.42 229.96L538.51 310.86L538.60 365.24L538.69 366.07L538.78 282.21L538.87 346.89L538.96 248.12L539.05 257.62L539.13 239.27L539.22 258.74L539.31 323.29L539.40 401.17L539.49 600.51L539.58 244.65L539.67 294.41L539.75 229.52L539.84 240.33L539.93 229.46L540.02 229.43L540.10 513.58L540.19 403.50L540.28 316.40L540.37 229.30L540.45 230.86L540.54 359.67L540.63 700.00L540.71 235.08L540.80 300.50L540.89 413.30L540.97 257.48L541.06 400.57L541.15 353.81L541.23 351.81L541.32 269.60L541.41 284.47L541.49 260.93L541.58 236.49L541.66 277.33L541.75 322.27L541.83 277.08L541.92 236.31L542.01 344.21L542.09 301.94L542.18 237.49L542.26 237.88L542.35 305.52L542.43 284.28L542.52 354.62L542.60 306.45L542.68 239.84L542.77 248.69L542.85 376.82L542.94 241.01L543.02 284.09L543.11 333.05L543.19 242.17L543.27 359.44L543.36 488.68L543.44 662.67L543.52 297.85L543.61 242.53L543.69 241.71L543.77 441.21L543.86 240.07L543.94 247.71L544.02 271.06L544.11 273.53L544.19 379.78L544.27 297.98L544.36 697.70L544.44 552.40L544.52 244.93L544.60 563.75L544.68 248.92L544.77 310.28L544.85 272.11L544.93 393.76L545.01 363.14L545.09 455.56L545.18 285.70L545.26 226.28L545.34 269.06L545.42 226.70L545.50 399.24L545.58 318.39L545.66 422.12L545.75 279.42L545.83 257.78L545.91 365.25L545.99 283.85L546.07 435.56L546.15 334.29L546.23 484.54L546.31 298.06L546.39 225.00L546.47 280.32L546.55 454.97L546.63 499.65L546.71 273.06L546.79 211.10L546.87 383.63L546.95 415.41L547.03 454.18L547.11 263.32L547.19 295.66L547.27 472.43L547.35 274.87L547.43 430.95L547.51 221.00L547.59 389.17L547.66 312.23L547.74 300.26L547.82 303.12L547.90 568.85L547.98 360.38L548.06 339.58L548.14 268.26L548.22 372.67L548.29 321.45L548.37 295.07L548.45 309.03L548.53 277.21L548.61 348.31L548.68 237.47L548.76 318.68L548.84 283.13L548.92 275.91L548.99 246.98L549.07 291.48L549.15 293.11L549.23 244.60L549.30 248.18L549.38 298.03L549.46 311.88L549.53 312.71L549.61 271.39L549.69 351.09L549.76 282.47L549.84 266.88L549.92 262.93L549.99 384.41L550.07 241.45L550.15 241.16L550.22 240.88L550.30 417.37L550.38 240.31L550.45 376.38L550.53 434.89L550.60 365.45L550.68 289.93L550.75 372.07L550.83 290.48L550.91 326.73L550.98 258.08L551.06 289.47L551.13 255.71L551.21 394.30L551.28 448.92L551.36 308.32L551.43 235.63L551.51 266.99L551.58 247.99L551.66 504.16L551.73 293.67L551.81 341.64L551.88 232.97L551.95 232.53L552.03 448.59L552.10 625.27L552.18 278.90L552.25 289.32L552.33 253.03L552.40 310.94L552.47 229.46L552.55 700.00L552.62 575.70L552.69 295.07L552.77 300.87L552.84 313.93L552.92 279.45L552.99 320.14L553.06 262.16L553.14 337.20L553.21 348.72L553.28 334.78L553.35 302.08L553.43 375.29L553.50 349.68L553.57 357.15L553.65 318.65L553.72 237.95L553.79 318.85L553.86 421.61L553.94 221.00L554.01 226.00L554.08 314.94L554.15 280.29L554.22 315.49L554.30 478.75L554.37 460.60L554.44 288.84L554.51 326.97L554.58 390.54L554.66 573.38L554.73 301.75L554.80 421.44L554.87 290.01L554.94 370.65L555.01 436.58L555.08 375.03L555.16 227.23L555.23 405.90L555.30 377.91L555.37 286.68L555.44 257.47L555.51 328.25L555.58 268.91L555.65 327.77L555.72 351.57L555.79 303.87L555.86 331.70L555.93 501.56L556.01 364.74L556.08 447.97L556.15 389.44L556.22 325.83L556.29 347.04L556.36 287.72L556.43 240.08L556.50 295.02L556.57 281.58L556.64 291.48L556.71 333.77L556.77 234.86L556.84 271.95L556.91 429.03L556.98 434.50L557.05 546.00L557.12 291.42L557.19 253.79L557.26 700.00L557.33 284.85L557.40 262.99L557.47 561.43L557.54 398.05L557.61 509.75L557.67 314.38L557.74 331.56L557.81 312.51L557.88 436.45L557.95 478.38L558.02 258.46L558.09 576.57L558.15 436.55L558.22 467.94L558.29 700.00L558.36 321.46L558.43 339.25L558.49 316.42L558.56 242.25L558.63 269.00L558.70 329.95L558.77 699.77L558.83 378.76L558.90 265.30L558.97 321.33L559.04 318.49L559.10 392.21L559.17 331.67L559.24 548.16L559.31 420.55L559.37 289.27L559.44 357.25L559.51 242.05L559.57 297.92L559.64 325.20L559.71 311.40L559.78 454.63L559.84 385.61L559.91 361.03L559.98 343.93L560.04 257.37L560.11 562.83L560.17 368.59L560.24 310.20L560.31 413.60L560.37 241.71L560.44 336.56L560.51 271.41L560.57 336.12L560.64 287.65L560.70 241.59L560.77 328.98L560.84 356.21L560.90 314.16L560.97 316.68L561.03 378.82L561.10 264.00L561.16 275.26L561.23 353.80L561.30 450.66L561.36 365.74L561.43 241.31L561.49 253.45L561.56 326.16L561.62 350.35L561.69 297.31L561.75 278.76L561.82 530.87L561.88 276.64L561.95 322.76L562.01 300.48L562.08 427.95L562.14 513.44L562.21 379.08L562.27 327.80L562.33 288.34L562.40 283.72L562.46 325.96L562.53 268.96L562.59 277.72L562.66 408.85L562.72 624.20L562.78 240.78L562.85 240.76L562.91 242.05L562.98 283.27L563.04 265.41L563.10 364.30L563.17 243.24L563.23 302.77L563.30 268.81L563.36 276.25L563.42 478.49L563.49 453.51L563.55 269.49L563.61 331.68L563.68 292.22L563.74 336.01L563.80 270.42L563.87 626.75L563.93 240.34L563.99 310.32L564.06 264.19L564.12 240.26L564.18 240.24L564.24 400.44L564.31 450.41L564.37 294.48L564.43 290.78L564.49 546.13L564.56 700.00L564.62 374.98L564.68 292.41L564.74 567.33L564.81 264.23L564.87 347.33L564.93 289.48L564.99 300.05L565.06 345.32L565.12 365.66L565.18 336.44L565.24 315.12L565.30 240.00L565.37 240.00L565.43 331.04L565.49 407.51L565.55 547.38L565.61 385.13L565.67 291.97L565.74 581.02L565.80 338.31L565.86 468.47L565.92 362.01L565.98 381.97L566.04 305.07L566.10 389.72L566.17 262.92L566.23 475.07L566.29 533.26L566.35 398.04L566.41 494.01L566.47 294.66L566.53 240.00L566.59 377.42L566.65 268.67L566.71 440.64L566.77 252.07L566.84 291.46L566.90 302.99" stroke="#ff7f0e" stroke-width="1.1"/></g><path d="M102.0 470.6L131.7 317.7L152.5 321.8L168.7 510.0L182.0 510.0L192.7 243.5L202.2 348.0L211.4 377.6L224.6 345.0L232.4 318.6L238.2 373.2L242.6 426.0L245.9 454.5L248.5 476.5L251.4 454.5L254.7 415.0L257.3 372.1L260.2 397.4L263.5 417.1L267.9 430.3L272.3 433.6L275.6 426.0L278.9 404.0L282.6 376.5L286.5 399.6L289.8 423.7L293.6 425.9L297.4 424.2L301.2 398.0L305.8 430.7L308.6 422.3L313.3 420.5L317.0 433.5L320.7 407.4L325.4 416.8L327.2 420.5L330.0 433.5L333.8 425.1L336.6 422.3L338.8 432.6L342.1 417.7L345.9 420.5L349.6 424.2L352.4 427.9L356.1 414.9L359.8 426.1L364.5 420.5L368.2 426.1L373.8 441.9L377.5 428.9L381.2 433.5L385.0 420.6L387.6 418.9L391.0 412.9L393.5 415.4L396.1 413.7L399.5 425.7L402.0 427.4L405.1 418.9L408.0 425.7L412.3 430.8L415.7 435.0L418.2 429.9L420.8 436.7L421.6 446.1L424.2 436.7L427.6 439.3L431.0 437.6L433.6 441.8L437.0 433.3L438.7 424.8L441.2 431.6L444.6 428.2L448.0 429.1L450.6 426.5L453.1 432.5L454.8 438.4L457.4 436.7L460.8 432.5L465.1 429.1L468.5 424.0L471.9 415.4L475.3 418.9L479.5 424.0L485.4 425.1L488.2 430.7L490.1 434.4L493.8 433.5L498.5 433.5L501.2 438.1L505.0 445.6L508.7 440.0L511.5 442.8L515.2 450.2L518.9 445.6L522.6 442.8L527.3 443.7L531.9 435.3L535.6 441.8L540.3 449.3L544.0 457.6L547.7 465.1L551.4 466.0L555.2 472.5L558.0 480.0L561.7 483.7L565.4 491.1L568.0 496.5" stroke="#1f77b4" stroke-width="4.17"/><g opacity="0.7"><path d="M102.0 160.4L131.7 287.0L152.5 359.4L168.7 303.4L181.8 184.0L192.7 260.2L203.1 250.4L211.3 184.9L219.3 196.0L225.9 265.0L231.7 350.0L237.5 387.0L243.2 350.0L251.9 274.4L257.0 268.6L264.2 301.2L270.7 350.0L279.0 411.6L283.8 400.0L287.7 387.3L292.8 384.8L296.0 358.3L299.4 348.0L303.7 319.1L307.9 298.6L310.5 294.4L313.0 300.3L316.4 314.8L319.0 321.6L321.6 333.6L325.8 349.7L329.2 344.6L332.6 348.9L334.3 356.6L336.9 342.9L340.3 351.4L342.8 360.0L345.4 375.3L348.0 356.6L350.5 353.1L352.2 342.9L355.6 331.0L358.2 317.4L359.9 298.6L361.6 297.8L365.0 314.0L367.6 307.1L371.8 318.2L375.2 308.9L377.8 311.4L380.3 299.5L382.9 297.8L385.4 303.7L388.8 296.9L391.4 307.1L396.5 330.7L400.3 318.5L404.1 335.3L409.5 314.0L414.0 305.6L417.1 301.8L420.1 272.8L423.2 271.3L425.5 273.6L429.3 266.8L432.3 272.0L436.9 286.5L442.6 307.7L446.8 312.8L451.1 316.2L455.3 323.9L458.7 312.0L462.1 309.4L467.3 296.6L471.5 295.8L474.9 301.7L478.3 297.5L483.4 302.6L487.7 299.2L492.8 295.8L497.1 306.8L502.2 309.4L506.4 311.1L509.0 317.9L512.7 311.2L516.8 301.7L520.2 307.8L523.5 311.2L526.9 302.3L530.3 309.1L533.7 315.9L538.4 308.4L542.5 313.2L545.9 315.2L549.3 320.6L551.3 328.8L553.3 332.1L556.7 330.8L559.4 334.9L562.1 341.0L564.9 338.9L568.0 336.5" stroke="#ff7f0e" stroke-width="4.17"/></g></g><g fill="#2a2a2a" shape-rendering="crispEdges"><rect x="101" y="45" width="2" height="464"/><rect x="566" y="45" width="2" height="464"/><rect x="101" y="45" width="467" height="2"/><rect x="101" y="507" width="467" height="2"/><rect x="95" y="68" width="6" height="2"/><rect x="95" y="126" width="6" height="2"/><rect x="95" y="183" width="6" height="2"/><rect x="95" y="241" width="6" height="2"/><rect x="95" y="299" width="6" height="2"/><rect x="95" y="357" width="6" height="2"/><rect x="95" y="414" width="6" height="2"/><rect x="95" y="472" width="6" height="2"/><rect x="218" y="509" width="2" height="6"/><rect x="385" y="509" width="2" height="6"/><rect x="553" y="509" width="2" height="6"/></g><g shape-rendering="crispEdges"><rect x="102" y="509" width="1" height="3" fill="#000"/><rect x="102" y="512" width="1" height="1" fill="#7f7f7f"/><rect x="101" y="509" width="1" height="3" fill="#dfdfdf"/><rect x="103" y="509" width="1" height="3" fill="#dfdfdf"/><rect x="131" y="509" width="1" height="3" fill="#000"/><rect x="131" y="512" width="1" height="1" fill="#7f7f7f"/><rect x="130" y="509" width="1" height="3" fill="#dfdfdf"/><rect x="132" y="509" width="1" height="3" fill="#dfdfdf"/><rect x="152" y="509" width="1" height="3" fill="#000"/><rect x="152" y="512" width="1" height="1" fill="#7f7f7f"/><rect x="151" y="509" width="1" height="3" fill="#dfdfdf"/><rect x="153" y="509" width="1" height="3" fill="#dfdfdf"/><rect x="169" y="509" width="1" height="3" fill="#000"/><rect x="169" y="512" width="1" height="1" fill="#7f7f7f"/><rect x="168" y="509" width="1" height="3" fill="#dfdfdf"/><rect x="170" y="509" width="1" height="3" fill="#dfdfdf"/><rect x="182" y="509" width="1" height="3" fill="#000"/><rect x="182" y="512" width="1" height="1" fill="#7f7f7f"/><rect x="181" y="509" width="1" height="3" fill="#dfdfdf"/><rect x="183" y="509" width="1" height="3" fill="#dfdfdf"/><rect x="193" y="509" width="1" height="3" fill="#000"/><rect x="193" y="512" width="1" height="1" fill="#7f7f7f"/><rect x="192" y="509" width="1" height="3" fill="#dfdfdf"/><rect x="194" y="509" width="1" height="3" fill="#dfdfdf"/><rect x="203" y="509" width="1" height="3" fill="#000"/><rect x="203" y="512" width="1" height="1" fill="#7f7f7f"/><rect x="202" y="509" width="1" height="3" fill="#dfdfdf"/><rect x="204" y="509" width="1" height="3" fill="#dfdfdf"/><rect x="211" y="509" width="1" height="3" fill="#000"/><rect x="211" y="512" width="1" height="1" fill="#7f7f7f"/><rect x="210" y="509" width="1" height="3" fill="#dfdfdf"/><rect x="212" y="509" width="1" height="3" fill="#dfdfdf"/><rect x="269" y="509" width="1" height="3" fill="#000"/><rect x="269" y="512" width="1" height="1" fill="#7f7f7f"/><rect x="268" y="509" width="1" height="3" fill="#dfdfdf"/><rect x="270" y="509" width="1" height="3" fill="#dfdfdf"/><rect x="299" y="509" width="1" height="3" fill="#000"/><rect x="299" y="512" width="1" height="1" fill="#7f7f7f"/><rect x="298" y="509" width="1" height="3" fill="#dfdfdf"/><rect x="300" y="509" width="1" height="3" fill="#dfdfdf"/><rect x="320" y="509" width="1" height="3" fill="#000"/><rect x="320" y="512" width="1" height="1" fill="#7f7f7f"/><rect x="319" y="509" width="1" height="3" fill="#dfdfdf"/><rect x="321" y="509" width="1" height="3" fill="#dfdfdf"/><rect x="336" y="509" width="1" height="3" fill="#000"/><rect x="336" y="512" width="1" height="1" fill="#7f7f7f"/><rect x="335" y="509" width="1" height="3" fill="#dfdfdf"/><rect x="337" y="509" width="1" height="3" fill="#dfdfdf"/><rect x="349" y="509" width="1" height="3" fill="#000"/><rect x="349" y="512" width="1" height="1" fill="#7f7f7f"/><rect x="348" y="509" width="1" height="3" fill="#dfdfdf"/><rect x="350" y="509" width="1" height="3" fill="#dfdfdf"/><rect x="360" y="509" width="1" height="3" fill="#000"/><rect x="360" y="512" width="1" height="1" fill="#7f7f7f"/><rect x="359" y="509" width="1" height="3" fill="#dfdfdf"/><rect x="361" y="509" width="1" height="3" fill="#dfdfdf"/><rect x="370" y="509" width="1" height="3" fill="#000"/><rect x="370" y="512" width="1" height="1" fill="#7f7f7f"/><rect x="369" y="509" width="1" height="3" fill="#dfdfdf"/><rect x="371" y="509" width="1" height="3" fill="#dfdfdf"/><rect x="379" y="509" width="1" height="3" fill="#000"/><rect x="379" y="512" width="1" height="1" fill="#7f7f7f"/><rect x="378" y="509" width="1" height="3" fill="#dfdfdf"/><rect x="380" y="509" width="1" height="3" fill="#dfdfdf"/><rect x="437" y="509" width="1" height="3" fill="#000"/><rect x="437" y="512" width="1" height="1" fill="#7f7f7f"/><rect x="436" y="509" width="1" height="3" fill="#dfdfdf"/><rect x="438" y="509" width="1" height="3" fill="#dfdfdf"/><rect x="466" y="509" width="1" height="3" fill="#000"/><rect x="466" y="512" width="1" height="1" fill="#7f7f7f"/><rect x="465" y="509" width="1" height="3" fill="#dfdfdf"/><rect x="467" y="509" width="1" height="3" fill="#dfdfdf"/><rect x="487" y="509" width="1" height="3" fill="#000"/><rect x="487" y="512" width="1" height="1" fill="#7f7f7f"/><rect x="486" y="509" width="1" height="3" fill="#dfdfdf"/><rect x="488" y="509" width="1" height="3" fill="#dfdfdf"/><rect x="503" y="509" width="1" height="3" fill="#000"/><rect x="503" y="512" width="1" height="1" fill="#7f7f7f"/><rect x="502" y="509" width="1" height="3" fill="#dfdfdf"/><rect x="504" y="509" width="1" height="3" fill="#dfdfdf"/><rect x="517" y="509" width="1" height="3" fill="#000"/><rect x="517" y="512" width="1" height="1" fill="#7f7f7f"/><rect x="516" y="509" width="1" height="3" fill="#dfdfdf"/><rect x="518" y="509" width="1" height="3" fill="#dfdfdf"/><rect x="528" y="509" width="1" height="3" fill="#000"/><rect x="528" y="512" width="1" height="1" fill="#7f7f7f"/><rect x="527" y="509" width="1" height="3" fill="#dfdfdf"/><rect x="529" y="509" width="1" height="3" fill="#dfdfdf"/><rect x="537" y="509" width="1" height="3" fill="#000"/><rect x="537" y="512" width="1" height="1" fill="#7f7f7f"/><rect x="536" y="509" width="1" height="3" fill="#dfdfdf"/><rect x="538" y="509" width="1" height="3" fill="#dfdfdf"/><rect x="546" y="509" width="1" height="3" fill="#000"/><rect x="546" y="512" width="1" height="1" fill="#7f7f7f"/><rect x="545" y="509" width="1" height="3" fill="#dfdfdf"/><rect x="547" y="509" width="1" height="3" fill="#dfdfdf"/></g><g fill="#000" shape-rendering="crispEdges"><rect x="59" y="128" width="13" height="2"/><rect x="46" y="185" width="13" height="2"/><rect x="46" y="243" width="13" height="2"/><rect x="46" y="301" width="13" height="2"/><rect x="46" y="359" width="13" height="2"/><rect x="46" y="416" width="13" height="2"/><rect x="46" y="474" width="13" height="2"/></g><rect x="302" y="56" width="255" height="67" rx="4.2" ry="4.2" fill="#fff" fill-opacity="0.8" stroke="#d6d6d6" stroke-width="1.67"/><rect x="307.9" y="70.92" width="46.2" height="4.16" fill="#1f77b4"/><rect x="307.9" y="101.92" width="46.2" height="4.16" fill="#ffa556"/><g font-family="Liberation Sans, sans-serif" fill="#000"><text x="334.02" y="33.62" font-size="26.79" text-anchor="middle" textLength="261.34" lengthAdjust="spacingAndGlyphs">Magnitude Spectrum</text><text x="86.50" y="77.71" font-size="23.51" text-anchor="end" textLength="12.04" lengthAdjust="spacingAndGlyphs">0</text><text x="85.71" y="134.99" font-size="23.21" text-anchor="end" textLength="11.29" lengthAdjust="spacingAndGlyphs">5</text><text x="86.92" y="192.55" font-size="23.51" text-anchor="end" textLength="25.90" lengthAdjust="spacingAndGlyphs">10</text><text x="86.46" y="250.74" font-size="23.38" text-anchor="end" textLength="25.89" lengthAdjust="spacingAndGlyphs">15</text><text x="86.98" y="309.00" font-size="23.51" text-anchor="end" textLength="26.09" lengthAdjust="spacingAndGlyphs">20</text><text x="86.50" y="366.00" font-size="23.51" text-anchor="end" textLength="25.98" lengthAdjust="spacingAndGlyphs">25</text><text x="86.86" y="423.81" font-size="23.51" text-anchor="end" textLength="25.25" lengthAdjust="spacingAndGlyphs">30</text><text x="86.55" y="481.74" font-size="22.57" text-anchor="end" textLength="25.25" lengthAdjust="spacingAndGlyphs">35</text><text x="202.48" y="543.40" font-size="23.51" text-anchor="start" textLength="25.53" lengthAdjust="spacingAndGlyphs">10</text><text x="228.51" y="534.50" font-size="16.69" text-anchor="start" textLength="7.99" lengthAdjust="spacingAndGlyphs">2</text><text x="369.25" y="543.40" font-size="23.51" text-anchor="start" textLength="25.72" lengthAdjust="spacingAndGlyphs">10</text><text x="395.87" y="535.41" font-size="17.21" text-anchor="start" textLength="7.75" lengthAdjust="spacingAndGlyphs">3</text><text x="536.31" y="542.75" font-size="23.51" text-anchor="start" textLength="25.77" lengthAdjust="spacingAndGlyphs">10</text><text x="562.69" y="535.13" font-size="17.58" text-anchor="start" textLength="8.09" lengthAdjust="spacingAndGlyphs">4</text><text x="332.65" y="572.54" font-size="21.40" text-anchor="middle" textLength="152.30" lengthAdjust="spacingAndGlyphs">Frequency(Hz)</text><text transform="translate(31.48,282.27) rotate(-90)" x="0" y="0" font-size="20.83" text-anchor="middle" textLength="155.71" lengthAdjust="spacingAndGlyphs">Magnitude(dB)</text><text x="365.83" y="81.42" font-size="21.56" text-anchor="start" textLength="180.54" lengthAdjust="spacingAndGlyphs">Pred. (smoothed)</text><text x="366.21" y="112.43" font-size="21.41" text-anchor="start" textLength="155.48" lengthAdjust="spacingAndGlyphs">GT (smoothed)</text></g></svg></body></html>
